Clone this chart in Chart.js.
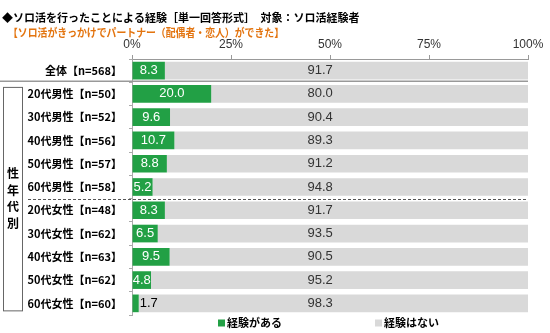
<!DOCTYPE html>
<html>
<head>
<meta charset="utf-8">
<script src="https://cdn.jsdelivr.net/npm/chart.js@4/dist/chart.umd.min.js"></script>
<style>
    html, body { margin: 0; padding: 0; background: #fff; }
    #wrap { width: 550px; height: 333px; position: relative; }
</style>
</head>
<body>
<div id="wrap"><canvas id="mainChart"></canvas></div>
<script>
// chart data
var categories = [
    '全体【n=568】',
    '20代男性【n=50】', '30代男性【n=52】', '40代男性【n=56】', '50代男性【n=57】', '60代男性【n=58】',
    '20代女性【n=48】', '30代女性【n=62】', '40代女性【n=63】', '50代女性【n=62】', '60代女性【n=60】'
];
var experienced = [8.3, 20.0, 9.6, 10.7, 8.8, 5.2, 8.3, 6.5, 9.5, 4.8, 1.7];
var notExperienced = [91.7, 80.0, 90.4, 89.3, 91.2, 94.8, 91.7, 93.5, 90.5, 95.2, 98.3];
var seriesNames = ['経験がある', '経験はない'];
var titleText = '◆ソロ活を行ったことによる経験［単一回答形式］　対象：ソロ活経験者';
var subtitleText = '【ソロ活がきっかけでパートナー（配偶者・恋人）ができた】';
var groupLabel = '性年代別';

var GREEN = '#22a045';
var GRAY = '#d9d9d9';
var JP = '"Noto Sans CJK JP", sans-serif';
var NUM = '"Liberation Sans", Arial, sans-serif';

// titles, separators, side box, value labels and legend
var decorations = {
    id: 'decorations',
    afterDraw: function(chart) {
        var ctx = chart.ctx;
        var area = chart.chartArea;
        var y = chart.scales.y;
        var x = chart.scales.x;
        ctx.save();

        // title
        ctx.fillStyle = '#000';
        ctx.textBaseline = 'middle';
        ctx.textAlign = 'left';
        ctx.font = 'bold 11px ' + JP;
        ctx.fillText(titleText, 2, 18);
        ctx.fillStyle = '#e3740f';
        ctx.fillText(subtitleText, 8, 33, 276);

        // separator below the total row
        var sep1 = (y.getPixelForValue(0) + y.getPixelForValue(1)) / 2 - 1;
        ctx.strokeStyle = '#999';
        ctx.lineWidth = 1.5;
        ctx.beginPath();
        ctx.moveTo(0, sep1);
        ctx.lineTo(area.right, sep1);
        ctx.stroke();

        // dashed separator between men and women
        var sep2 = Math.round((y.getPixelForValue(5) + y.getPixelForValue(6)) / 2) + 0.5;
        ctx.strokeStyle = '#555';
        ctx.lineWidth = 1;
        ctx.setLineDash([3, 2]);
        ctx.beginPath();
        ctx.moveTo(28, sep2);
        ctx.lineTo(area.right, sep2);
        ctx.stroke();
        ctx.setLineDash([]);

        // side box with vertical group label
        var boxTop = y.getPixelForValue(1) - 7;
        var boxBottom = y.getPixelForValue(10) + 7;
        ctx.strokeStyle = '#666';
        ctx.strokeRect(3.5, boxTop + 0.5, 19, boxBottom - boxTop);
        ctx.fillStyle = '#000';
        ctx.textAlign = 'center';
        ctx.font = 'bold 12px ' + JP;
        var mid = (boxTop + boxBottom) / 2;
        for (var i = 0; i < groupLabel.length; i++) {
            ctx.fillText(groupLabel[i], 13, mid + (i - 1.5) * 16.5);
        }

        // value labels
        ctx.font = '13px ' + NUM;
        var greenBars = chart.getDatasetMeta(0).data;
        greenBars.forEach(function(bar, j) {
            var v = experienced[j];
            if (v < 3) {
                ctx.fillStyle = '#000';
                ctx.textAlign = 'left';
                ctx.fillText(v.toFixed(1), bar.x + 1, bar.y);
            } else {
                ctx.fillStyle = '#fff';
                ctx.textAlign = 'center';
                ctx.fillText(v.toFixed(1), (bar.base + bar.x) / 2, bar.y);
            }
        });
        var grayBars = chart.getDatasetMeta(1).data;
        ctx.fillStyle = '#333';
        ctx.textAlign = 'center';
        grayBars.forEach(function(bar, j) {
            ctx.fillText(notExperienced[j].toFixed(1), x.getPixelForValue(47.5), bar.y);
        });

        // legend
        var ly = 323;
        var items = [[GREEN, seriesNames[0], 218], [GRAY, seriesNames[1], 375]];
        ctx.font = 'bold 11px ' + JP;
        ctx.textAlign = 'left';
        items.forEach(function(it) {
            ctx.fillStyle = it[0];
            ctx.fillRect(it[2], ly - 3.5, 7, 7);
            ctx.fillStyle = '#000';
            ctx.fillText(it[1], it[2] + 9, ly);
        });

        ctx.restore();
    }
};

var chartContainer = document.getElementById('mainChart');
var chartOptions = {
    type: 'bar',
    data: {
        labels: categories,
        datasets: [
            { label: seriesNames[0], data: experienced, backgroundColor: GREEN },
            { label: seriesNames[1], data: notExperienced, backgroundColor: GRAY }
        ]
    },
    options: {
        indexAxis: 'y',
        responsive: true,
        maintainAspectRatio: false,
        animation: false,
        layout: { padding: { left: 0, right: 22, top: 30, bottom: 18 } },
        datasets: { bar: { categoryPercentage: 1, barPercentage: 0.76 } },
        plugins: {
            legend: { display: false },
            tooltip: { enabled: false }
        },
        scales: {
            x: {
                position: 'top',
                stacked: true,
                min: 0,
                max: 100,
                afterFit: function(scale) { scale.height = 29; },
                border: { color: '#999' },
                grid: { drawOnChartArea: false, tickLength: 4, color: '#999' },
                ticks: {
                    stepSize: 25,
                    padding: 3,
                    color: '#333',
                    font: { family: NUM, size: 12 },
                    callback: function(v) { return v + '%'; }
                }
            },
            y: {
                stacked: true,
                afterFit: function(scale) { scale.width = 132; },
                border: { color: '#aaa' },
                grid: { drawOnChartArea: false, tickLength: 3, color: '#aaa', offset: true },
                ticks: {
                    padding: 7,
                    color: '#000',
                    font: { family: JP, size: 11, weight: 'bold' }
                }
            }
        }
    },
    plugins: [decorations]
};
var mainChart = new Chart(chartContainer, chartOptions);
</script>
</body>
</html>
